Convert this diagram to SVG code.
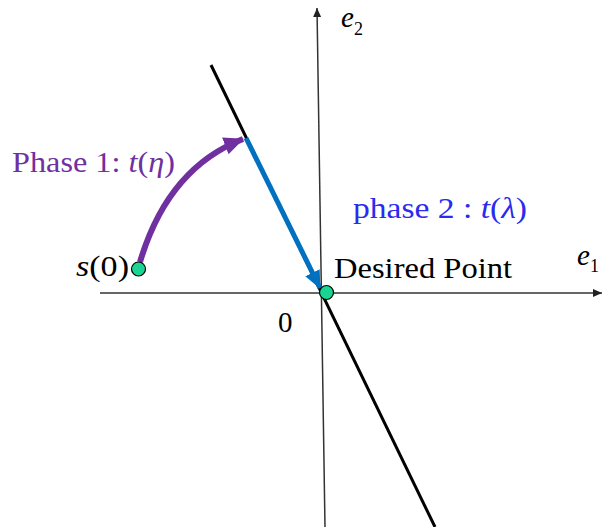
<svg xmlns="http://www.w3.org/2000/svg" width="602" height="527" viewBox="0 0 602 527">
<style>
.t{font-family:"Liberation Serif",serif;font-size:29px}
.i{font-style:italic}
</style>
<defs>
<marker id="ak" markerWidth="9" markerHeight="8" refX="9" refY="4" orient="auto" markerUnits="userSpaceOnUse"><path d="M0,0 L9,4 L0,8 Z" fill="#222"/></marker>
<marker id="ab" markerWidth="18" markerHeight="16" refX="17" refY="8" orient="auto" markerUnits="userSpaceOnUse"><path d="M0,0 L18,8 L0,16 Z" fill="#0070C0"/></marker>
<marker id="ap" markerWidth="20" markerHeight="18" refX="19" refY="9" orient="auto" markerUnits="userSpaceOnUse"><path d="M0,0 L20,9 L0,18 Z" fill="#7030A0"/></marker>
</defs>
<rect width="602" height="527" fill="#fff"/>
<g id="connectors">
<line x1="100" y1="293" x2="602" y2="293" stroke="#333" stroke-width="1.5" marker-end="url(#ak)"/>
<line x1="325" y1="527" x2="317" y2="8" stroke="#333" stroke-width="1.5" marker-end="url(#ak)"/>
<line x1="211" y1="65" x2="435" y2="527" stroke="#000" stroke-width="3"/>
<line x1="246" y1="138" x2="320" y2="288" stroke="#0070C0" stroke-width="5" marker-end="url(#ab)"/>
<path d="M140,262 Q168,168 243,139" fill="none" stroke="#7030A0" stroke-width="6" marker-end="url(#ap)"/>
</g>
<g id="start">
<circle cx="138.5" cy="269" r="7" fill="#1BD494" stroke="#000" stroke-width="1.2"/>
<text class="t" x="76" y="276" textLength="53" lengthAdjust="spacingAndGlyphs"><tspan class="i">s</tspan>(0)</text>
</g>
<g id="desired">
<circle cx="326.5" cy="292.5" r="7" fill="#1BD494" stroke="#000" stroke-width="1.2"/>
<text class="t" x="334" y="278" textLength="178" lengthAdjust="spacingAndGlyphs">Desired Point</text>
</g>
<g id="labels">
<text class="t" x="12" y="172" fill="#7030A0" textLength="163" lengthAdjust="spacingAndGlyphs">Phase 1: <tspan class="i">t</tspan>(<tspan class="i">η</tspan>)</text>
<text class="t" x="353" y="218" fill="#2A2AF0" textLength="174" lengthAdjust="spacingAndGlyphs">phase 2 : <tspan class="i">t</tspan>(<tspan class="i">λ</tspan>)</text>
<text class="t i" x="577" y="265" font-size="26">e<tspan font-size="18" font-style="normal" dy="7">1</tspan></text>
<text class="t i" x="341" y="27" font-size="26">e<tspan font-size="18" font-style="normal" dy="8">2</tspan></text>
<text class="t" x="278" y="332">0</text>
</g>
</svg>
